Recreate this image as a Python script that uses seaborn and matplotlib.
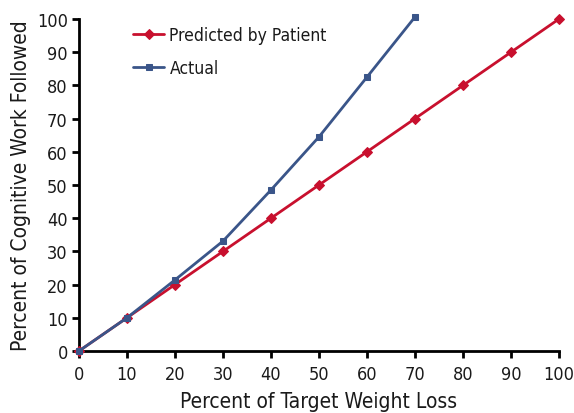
import pandas as pd
import matplotlib
matplotlib.use('Agg')
import matplotlib.pyplot as plt
import seaborn as sns

# values
weight_loss_pred = [0, 10, 20, 30, 40, 50, 60, 70, 80, 90, 100]
work_pred = [0, 10, 20, 30, 40, 50, 60, 70, 80, 90, 100]
weight_loss_actual = [0, 10, 20, 30, 40, 50, 60, 70]
work_actual = [0, 10, 21.4, 33.1, 48.5, 64.5, 82.5, 100.6]

red = '#C8102E'
blue = '#3A5589'

sns.set_theme(style='ticks')
plt.rcParams['font.family'] = ['DejaVu Sans']
plt.rcParams['font.stretch'] = 'condensed'

fig = plt.figure(figsize=(5.74, 4.14), dpi=100)
ax = fig.add_axes([0.1376, 0.1498, 0.8362, 0.8019])

pred = pd.DataFrame({'x': weight_loss_pred, 'y': work_pred})
actual = pd.DataFrame({'x': weight_loss_actual, 'y': work_actual})

sns.lineplot(data=pred, x='x', y='y', ax=ax, color=red, lw=2,
             marker='D', markersize=5, markeredgecolor=red,
             label='Predicted by Patient', clip_on=False, zorder=3)
sns.lineplot(data=actual, x='x', y='y', ax=ax, color=blue, lw=2,
             marker='s', markersize=5, markeredgecolor=blue,
             label='Actual', clip_on=False, zorder=4)

ax.set_xlim(0, 100)
ax.set_ylim(0, 100)
ax.set_xticks(range(0, 101, 10))
ax.set_yticks(range(0, 101, 10))
ax.tick_params(axis='both', labelsize=13, length=5, width=2, color='black',
               labelcolor='#1a1a1a', pad=3)
ax.tick_params(axis='x', pad=5)
for s in ['left', 'bottom']:
    ax.spines[s].set_linewidth(2)
    ax.spines[s].set_color('black')
sns.despine(ax=ax)

ax.set_xlabel('Percent of Target Weight Loss', fontsize=15, color='#1a1a1a', labelpad=6)
ax.set_ylabel('Percent of Cognitive Work Followed', fontsize=15, color='#1a1a1a', labelpad=4)

leg = ax.legend(loc='upper left', bbox_to_anchor=(0.08, 1.025), frameon=False,
                fontsize=12.5, handlelength=1.8, labelspacing=0.85, handletextpad=0.3)
for t in leg.get_texts():
    t.set_color('#1a1a1a')

fig.savefig('out.png', dpi=100)
